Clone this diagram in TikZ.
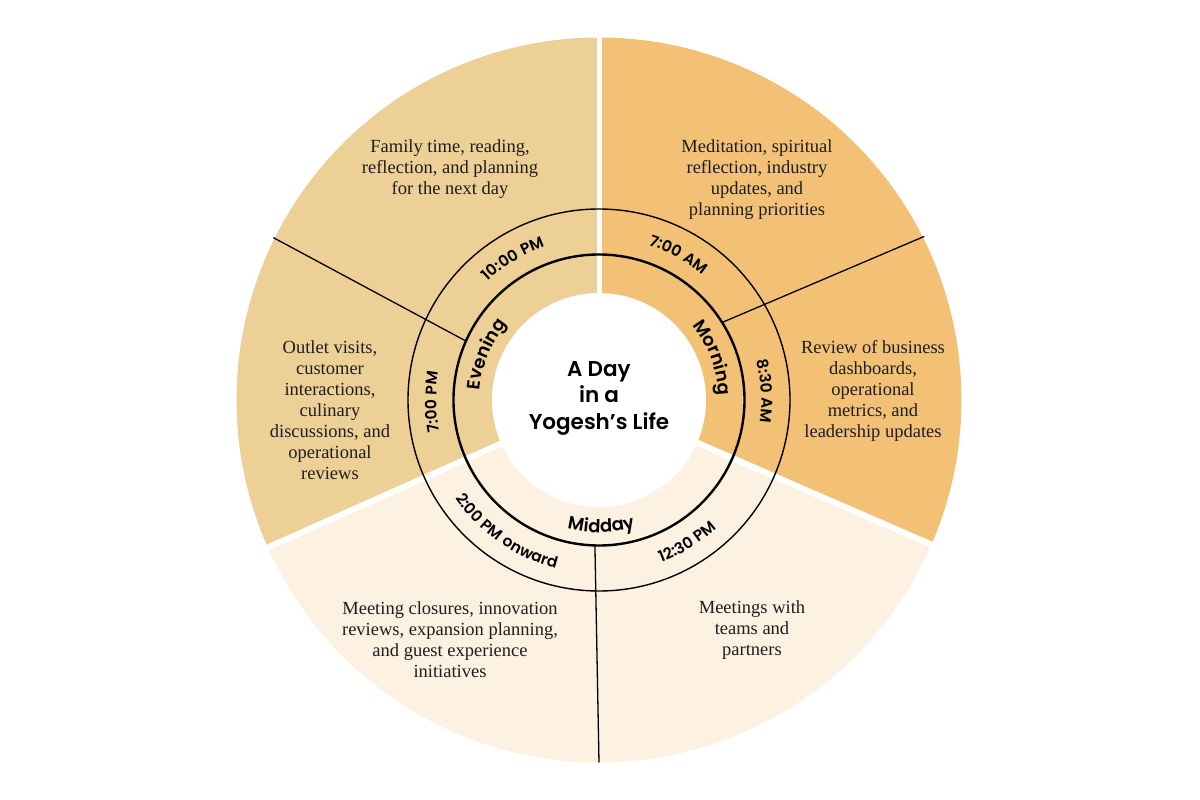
\documentclass[tikz,border=0pt]{standalone}
\usepackage{fontspec}
\setmainfont{Liberation Serif}
\setsansfont{Poppins}[BoldFont={Poppins SemiBold}]
\newfontfamily\ringfam{Poppins SemiBold}[LetterSpace=4]
\usetikzlibrary{decorations.text}
\definecolor{morn}{RGB}{242,193,118}
\definecolor{eve}{RGB}{236,208,150}
\definecolor{midc}{RGB}{253,241,226}
\definecolor{ink}{RGB}{30,30,30}
\newcommand{\lblfont}{\ringfam\fontsize{15.5}{15.5}\selectfont}
\newcommand{\phasefont}{\ringfam\fontsize{18}{18}\selectfont}
% clockwise label: angle, baseline radius, font, text
\newcommand{\ringcw}[4]{%
  \path[decorate,decoration={text along path,text={|#3|#4},text align=center}]
    (#1+60:#2) arc[start angle=#1+60, end angle=#1-60, radius=#2];}
\newcommand{\ringccw}[4]{%
  \path[decorate,decoration={text along path,text={|#3|#4},text align=center}]
    (#1-60:#2) arc[start angle=#1-60, end angle=#1+60, radius=#2];}
\tikzset{
  body/.style={font=\fontsize{18.5}{21}\selectfont, align=center, text=ink, inner sep=0pt},
  title/.style={font=\sffamily\bfseries\fontsize{21.5}{26.5}\selectfont, align=center, text=black, inner sep=0pt},
  gap/.style={white, line width=6pt},
  divider/.style={draw=black, line width=1.3pt},
}
\begin{document}
\begin{tikzpicture}[x=1pt,y=1pt]
\useasboundingbox (-599,-400) rectangle (601,400);
\coordinate (c) at (0,0);
% sectors
\fill[morn] (c) -- (90:362.5) arc[start angle=90, end angle=-23.5, radius=362.5] -- cycle;
\fill[midc] (c) -- (-23.5:362.5) arc[start angle=-23.5, end angle=-156, radius=362.5] -- cycle;
\fill[eve] (c) -- (204:362.5) arc[start angle=204, end angle=90, radius=362.5] -- cycle;
% white gaps
\draw[white, line width=5pt] (1,0) -- (1,370);
\draw[gap] (c) -- (-23.5:370);
\draw[gap] (c) -- (204:370);
% inner white disc and rings
\fill[white] (c) circle[radius=107];
\draw[black, line width=2.4pt] (c) circle[radius=145.5];
\draw[black, line width=1.4pt] (c) circle[radius=191];
% dividers
\coordinate (l1) at (156.1:145.5); \coordinate (l2) at (153.5:364);
\coordinate (r1) at (32.2:145.5);  \coordinate (r2) at (26.7:364);
\coordinate (b1) at (-91.6:145.5); \coordinate (b2) at (-90:362.5);
\draw[divider] (l1) -- (l2);
\draw[divider] (r1) -- (r2);
\draw[divider] (b1) -- (b2);
% time labels
\ringcw{61.4}{162.5}{\lblfont}{7:00 AM}
\ringcw{121.3}{162.5}{\lblfont}{10:00 PM}
\ringcw{3}{162.5}{\lblfont}{8:30 AM}
\ringcw{180.7}{162.5}{\lblfont}{7:00 PM}
\ringccw{235}{174}{\lblfont}{2:00 PM onward}
\ringccw{-58.3}{174}{\lblfont}{12:30 PM}
% phase labels
\ringcw{20.4}{119.5}{\phasefont}{Morning}
\ringcw{158}{119.5}{\phasefont}{Evening}
\ringccw{-89}{132.5}{\phasefont}{Midday}
% centre
\node[title] (t) at (0,2) {A Day\\in a\\Yogesh’s Life};
% descriptions
\node[body] (fam) at (-149,231) {Family time, reading,\\reflection, and planning\\for the next day};
\node[body] (med) at (158,220) {Meditation, spiritual\\reflection, industry\\updates, and\\planning priorities};
\node[body] (rev) at (274,9) {Review of business\\dashboards,\\operational\\metrics, and\\leadership updates};
\node[body] (out) at (-269,-10) {Outlet visits,\\customer\\interactions,\\culinary\\discussions, and\\operational\\reviews};
\node[body] (clo) at (-149,-240) {Meeting closures, innovation\\reviews, expansion planning,\\and guest experience\\initiatives};
\node[body] (tea) at (153,-230) {Meetings with\\teams and\\partners};
\end{tikzpicture}
\end{document}
